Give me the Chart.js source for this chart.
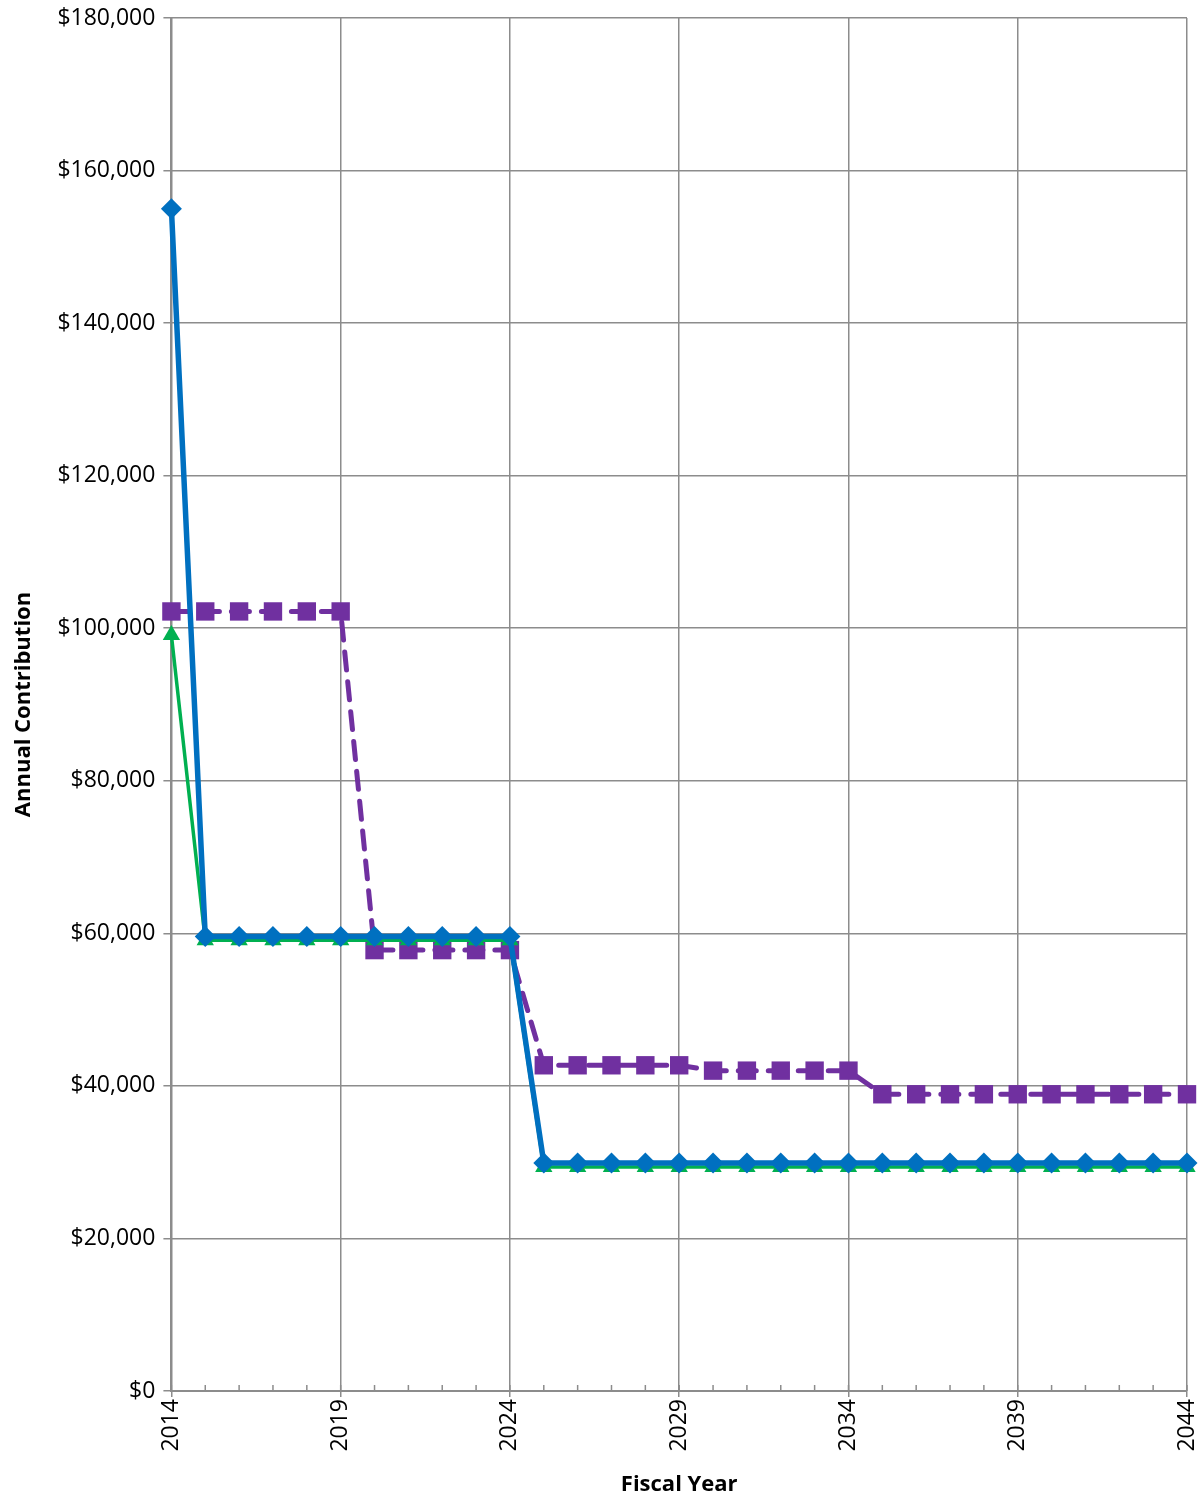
<!DOCTYPE html>
<html>
<head>
<meta charset="utf-8">
<script src="https://cdn.jsdelivr.net/npm/chart.js@4.4.0/dist/chart.umd.min.js"></script>
<style>
    html, body { margin: 0; padding: 0; background: #fff; }
    #wrap { width: 1203px; height: 1500px; position: relative; }
</style>
</head>
<body>
<div id="wrap"><canvas id="contribChart"></canvas></div>
<script>
// Fiscal years 2014..2044
const years = [2014, 2015, 2016, 2017, 2018, 2019, 2020, 2021, 2022, 2023, 2024,
    2025, 2026, 2027, 2028, 2029, 2030, 2031, 2032, 2033, 2034,
    2035, 2036, 2037, 2038, 2039, 2040, 2041, 2042, 2043, 2044];

// Annual contribution series
const blueValues = [155000, 59600, 59600, 59600, 59600, 59600, 59600, 59600, 59600, 59600, 59600,
    29900, 29900, 29900, 29900, 29900, 29900, 29900, 29900, 29900, 29900,
    29900, 29900, 29900, 29900, 29900, 29900, 29900, 29900, 29900, 29900];
const greenValues = [99100, 59100, 59100, 59100, 59100, 59100, 59100, 59100, 59100, 59100, 59100,
    29350, 29350, 29350, 29350, 29350, 29350, 29350, 29350, 29350, 29350,
    29350, 29350, 29350, 29350, 29350, 29350, 29350, 29350, 29350, 29350];
const purpleValues = [102200, 102200, 102200, 102200, 102200, 102200, 57800, 57800, 57800, 57800, 57800,
    42700, 42700, 42700, 42700, 42700, 42000, 42000, 42000, 42000, 42000,
    38900, 38900, 38900, 38900, 38900, 38900, 38900, 38900, 38900, 38900];

const yTicks = [0, 20000, 40000, 60000, 80000, 100000, 120000, 140000, 160000, 180000];

const gridGrey = '#8c8c8c';
const fontFamily = '"Open Sans", Lato, sans-serif';

function toPoints(values) {
    return years.map((y, i) => ({ x: y, y: values[i] }));
}

// Small year tick marks drawn inside the plot, above the x axis
const minorTicks = {
    id: 'minorTicks',
    beforeDatasetsDraw(chart) {
        const ctx = chart.ctx;
        const xScale = chart.scales.x;
        const bottom = chart.chartArea.bottom;
        ctx.save();
        ctx.strokeStyle = gridGrey;
        ctx.lineWidth = 1.5;
        years.forEach(y => {
            const px = xScale.getPixelForValue(y);
            ctx.beginPath();
            ctx.moveTo(px, bottom);
            ctx.lineTo(px, bottom - 6);
            ctx.stroke();
        });
        ctx.restore();
    }
};

document.addEventListener('DOMContentLoaded', () => {
    const ctx = document.getElementById('contribChart').getContext('2d');
    new Chart(ctx, {
        type: 'line',
        data: {
            datasets: [
                {
                    label: 'Blue',
                    data: toPoints(blueValues),
                    borderColor: '#0070C0',
                    backgroundColor: '#0070C0',
                    borderWidth: 5.5,
                    pointStyle: 'rectRot',
                    pointRadius: 10.5,
                    pointBorderWidth: 0,
                    clip: false,
                    tension: 0
                },
                {
                    label: 'Green',
                    data: toPoints(greenValues),
                    borderColor: '#00B050',
                    backgroundColor: '#00B050',
                    borderWidth: 3.5,
                    pointStyle: 'triangle',
                    pointRadius: 10,
                    pointBorderWidth: 0,
                    clip: false,
                    tension: 0
                },
                {
                    label: 'Purple',
                    data: toPoints(purpleValues),
                    borderColor: '#7030A0',
                    backgroundColor: '#7030A0',
                    borderWidth: 5,
                    borderDash: [18, 12],
                    borderCapStyle: 'round',
                    pointStyle: 'rect',
                    pointRadius: 13,
                    pointBorderWidth: 0,
                    clip: false,
                    tension: 0
                }
            ]
        },
        options: {
            responsive: true,
            maintainAspectRatio: false,
            animation: false,
            layout: {
                padding: { top: 18, right: 0, bottom: 2, left: 11 }
            },
            plugins: {
                legend: { display: false },
                tooltip: { enabled: false }
            },
            scales: {
                x: {
                    type: 'linear',
                    min: 2014,
                    max: 2044,
                    afterFit: axis => {
                        axis.paddingRight = 16;
                    },
                    ticks: {
                        stepSize: 1,
                        autoSkip: false,
                        maxRotation: 90,
                        minRotation: 90,
                        color: '#000',
                        padding: 2,
                        font: { family: fontFamily, size: 23 },
                        callback: v => ((v - 2014) % 5 === 0 ? String(v) : '')
                    },
                    grid: {
                        color: c => ((c.tick && (c.tick.value - 2014) % 5 === 0) ? gridGrey : 'rgba(0,0,0,0)'),
                        tickColor: c => ((c.tick && (c.tick.value - 2014) % 5 === 0) ? gridGrey : 'rgba(0,0,0,0)'),
                        lineWidth: 1.5,
                        tickLength: 6
                    },
                    border: { color: gridGrey, width: 2 },
                    title: {
                        display: true,
                        text: 'Fiscal Year',
                        color: '#000',
                        font: { family: fontFamily, size: 22, weight: 'bold' },
                        padding: { top: 18, bottom: 0 }
                    }
                },
                y: {
                    min: 0,
                    max: 180000,
                    afterFit: axis => {
                        axis.paddingTop = 0;
                    },
                    afterBuildTicks: axis => {
                        axis.ticks = yTicks.map(v => ({ value: v }));
                    },
                    ticks: {
                        color: '#000',
                        font: { family: fontFamily, size: 23 },
                        padding: 8,
                        callback: v => '$' + Number(v).toLocaleString('en-US')
                    },
                    grid: {
                        color: gridGrey,
                        lineWidth: 1.5,
                        tickLength: 8
                    },
                    border: { color: gridGrey, width: 2 },
                    title: {
                        display: true,
                        text: 'Annual Contribution',
                        color: '#000',
                        font: { family: fontFamily, size: 22, weight: 'bold' },
                        padding: { top: 0, bottom: 12 }
                    }
                }
            }
        },
        plugins: [minorTicks]
    });
});
</script>
</body>
</html>
